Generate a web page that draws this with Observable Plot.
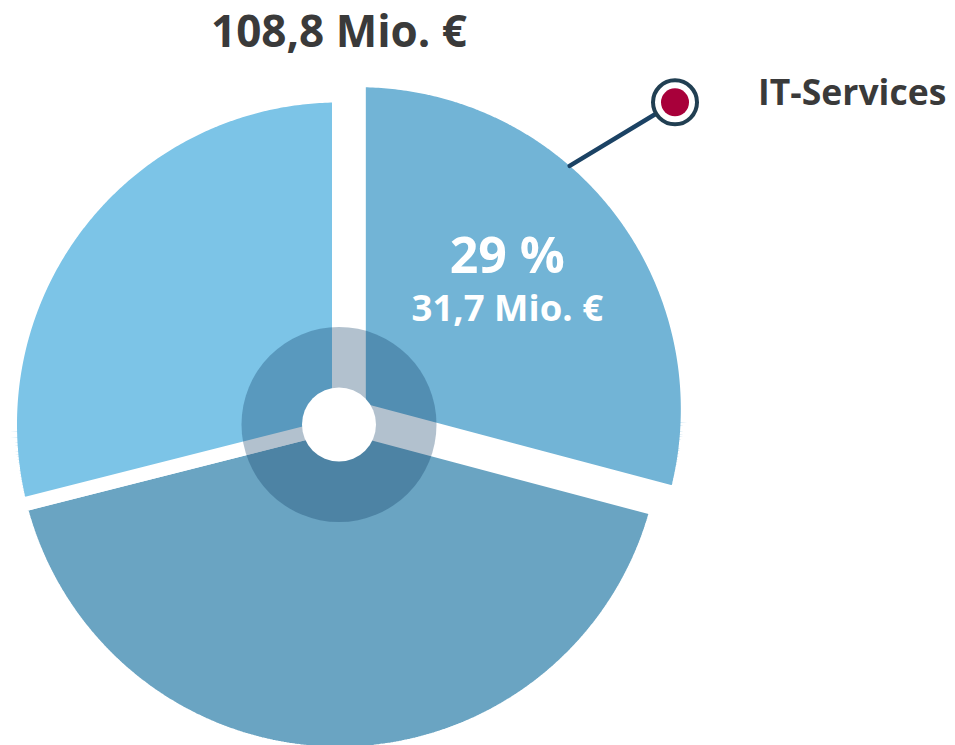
<!DOCTYPE html>
<html>
<head>
<meta charset="utf-8">
<script src="https://cdn.jsdelivr.net/npm/d3@7"></script>
<script src="https://cdn.jsdelivr.net/npm/@observablehq/plot@0.6"></script>
<style>
  html, body { margin: 0; padding: 0; background: #fff; }
  #chart svg { display: block; }
</style>
</head>
<body>
<div id="chart"></div>
<script>
// ---- data ----
const segments = ["IT-Services", "Segment B", "Segment C"];
const values = [31.7, 45.6, 31.5];
const colors = ["#72B4D6", "#6AA4C2", "#7CC4E7"];
const highlighted = "IT-Services";
const unitLabel = "Mio. €";

// ---- layout ----
const W = 955, H = 745;
const cx = 338.5, cy = 424;     // pie centre in px
const Rpx = 329;                // outer radius (incl. half of the white gap stroke)
const gap = 14;                 // white separation between slices
const explode = 25 / Rpx;       // offset of highlighted slice (radius units)
const ringR = 97.5, holeR = 37; // inner overlay ring / hole (px)
const calloutAngle = 46.2 * Math.PI / 180, calloutDist = 1.415;
const calloutStartAngle = 40.9 * Math.PI / 180;

const de = d3.formatLocale({decimal: ",", thousands: ".", grouping: [3], currency: ["", "€"]});
const fmt1 = de.format(".1f");

const total = d3.sum(values);
const arcs = d3.pie().sort(null).startAngle(0).endAngle(2 * Math.PI)(values);

const slices = arcs.map((a, i) => {
  const name = segments[i];
  const mid = (a.startAngle + a.endAngle) / 2;
  const off = name === highlighted ? explode : 0;
  const ox = off * Math.sin(mid), oy = off * Math.cos(mid);
  const n = Math.max(4, Math.ceil((a.endAngle - a.startAngle) / (Math.PI / 360)));
  const pts = [{x: ox, y: oy}];
  for (let k = 0; k <= n; k++) {
    const t = a.startAngle + (a.endAngle - a.startAngle) * k / n;
    pts.push({x: ox + Math.sin(t), y: oy + Math.cos(t)});
  }
  pts.push({x: ox, y: oy});
  return {name, value: values[i], color: colors[i], mid, ox, oy, pts};
});

const hi = slices.find(s => s.name === highlighted);
const edgeR = (Rpx - gap / 2) / Rpx;
const calloutStart = {x: hi.ox + edgeR * Math.sin(calloutStartAngle), y: hi.oy + edgeR * Math.cos(calloutStartAngle)};
const calloutEnd = {x: calloutDist * Math.sin(calloutAngle), y: calloutDist * Math.cos(calloutAngle)};
const labelPos = {x: hi.ox + 0.6 * Math.sin(hi.mid), y: hi.oy + 0.6 * Math.cos(hi.mid)};

const font = "'Open Sans', 'Noto Sans', sans-serif";

const marks = [];
for (const s of slices) {
  marks.push(Plot.line(s.pts, {
    x: "x", y: "y", fill: s.color, stroke: "white", strokeWidth: gap,
    strokeLinejoin: "miter", curve: "linear"
  }));
}
marks.push(
  Plot.line([calloutStart, calloutEnd], {x: "x", y: "y", stroke: "#1B4264", strokeWidth: 4.5}),
  Plot.dot([{x: 0, y: 0}], {x: "x", y: "y", r: ringR, fill: "#0E3F66", fillOpacity: 0.32, stroke: null}),
  Plot.dot([{x: 0, y: 0}], {x: "x", y: "y", r: holeR, fill: "white", stroke: null}),
  Plot.dot([calloutEnd], {x: "x", y: "y", r: 22, fill: "white", stroke: "#213F52", strokeWidth: 4}),
  Plot.dot([calloutEnd], {x: "x", y: "y", r: 14, fill: "#A8003A", stroke: null}),
  Plot.text([calloutEnd], {x: "x", y: "y", text: () => highlighted, textAnchor: "start", dx: 83, dy: -9,
    fontFamily: font, fontWeight: "bold", fontSize: 35.5, fill: "#3A3A3A"}),
  Plot.text([labelPos], {x: "x", y: "y", text: () => Math.round(hi.value / total * 100) + " %",
    dx: -8, dy: -32, fontFamily: font, fontWeight: "bold", fontSize: 50, fill: "white"}),
  Plot.text([labelPos], {x: "x", y: "y", text: () => fmt1(hi.value) + " " + unitLabel,
    dx: -8, dy: 20, fontFamily: font, fontWeight: "bold", fontSize: 36.5, fill: "white"}),
  Plot.text([{x: 0, y: 1}], {x: "x", y: "y", text: () => fmt1(total) + " " + unitLabel,
    dy: -63, fontFamily: font, fontWeight: "bold", fontSize: 44, fill: "#3A3A3A"})
);

const chart = Plot.plot({
  width: W, height: H,
  margin: 0,
  x: {type: "linear", domain: [-1, 1], range: [cx - Rpx, cx + Rpx], axis: null},
  y: {type: "linear", domain: [-1, 1], range: [cy + Rpx, cy - Rpx], axis: null},
  style: {background: "white", overflow: "visible"},
  marks
});
document.getElementById("chart").appendChild(chart);
</script>
</body>
</html>
